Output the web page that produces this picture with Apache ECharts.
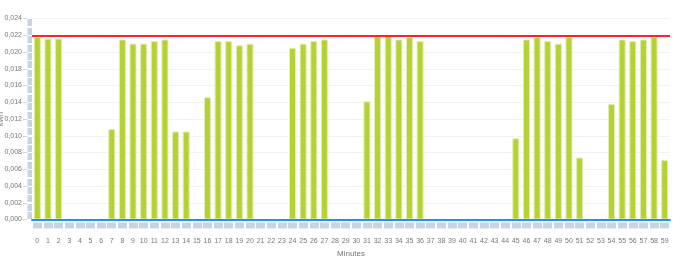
<!DOCTYPE html>
<html><head><meta charset="utf-8">
<script src="https://cdn.jsdelivr.net/npm/echarts@6/dist/echarts.min.js"></script>
<style>html,body{margin:0;padding:0;background:#fff}#c{width:680px;height:261px}</style>
</head><body><div id="c"></div>
<script>
const minutes = Array.from({length: 60}, (_, i) => String(i));
const values = [
  0.0218, 0.0216, 0.0216, 0, 0, 0, 0, 0.0108, 0.0215, 0.0210,
  0.0210, 0.0213, 0.0215, 0.0105, 0.0105, 0, 0.0146, 0.0213, 0.0213, 0.0208,
  0.0210, 0, 0, 0, 0.0205, 0.0210, 0.0213, 0.0215, 0, 0,
  0, 0.0141, 0.0220, 0.0220, 0.0215, 0.0218, 0.0213, 0, 0, 0,
  0, 0, 0, 0, 0, 0.0097, 0.0215, 0.0218, 0.0213, 0.0210,
  0.0218, 0.0074, 0, 0, 0.0138, 0.0215, 0.0213, 0.0215, 0.0218, 0.0071
];
const limitValue = 0.022;
const yTickSlots = Array.from({length: 24}, (_, i) => String(i));
const yAxisName = 'kWh';
const xAxisName = 'Minutes';

const boxColor = '#c6d4e3';
const gridBox = {left: 32, right: 10, top: 18.5, bottom: 41.5, outerBoundsMode: 'none', containLabel: false};
const chart = echarts.init(document.getElementById('c'));
chart.setOption({
  animation: false,
  grid: [Object.assign({}, gridBox), Object.assign({}, gridBox)],
  xAxis: [{
    type: 'category', data: minutes, gridIndex: 0, z: 5,
    axisLine: {lineStyle: {color: '#1e98e6', width: 2}},
    axisTick: {show: false},
    axisLabel: {color: '#777', fontSize: 7, margin: 18, interval: 0, fontFamily: 'Liberation Sans'},
    name: xAxisName, nameLocation: 'middle', nameGap: 30, nameMoveOverlap: false,
    nameTextStyle: {color: '#777', fontSize: 8, fontFamily: 'Liberation Sans'}
  }, {
    type: 'category', data: minutes, gridIndex: 0, position: 'bottom', offset: 3,
    axisLine: {show: false},
    axisTick: {show: true, interval: 0, alignWithLabel: true, length: 6, lineStyle: {color: boxColor, width: 9.2}},
    axisLabel: {show: false}
  }, {
    type: 'value', gridIndex: 1, show: false
  }],
  yAxis: [{
    type: 'value', gridIndex: 0, min: 0, max: 0.024, interval: 0.002, offset: 5,
    axisLine: {show: false},
    axisTick: {show: true, length: 4, lineStyle: {color: '#c6d4e3'}},
    axisLabel: {color: '#777', fontSize: 7, margin: 5, fontFamily: 'Liberation Sans',
      formatter: v => v.toFixed(3).replace('.', ',')},
    splitLine: {lineStyle: {color: '#f2f2f2'}},
    name: yAxisName, nameLocation: 'middle', nameGap: 22.5, nameRotate: 90, nameMoveOverlap: false,
    nameTextStyle: {color: '#777', fontSize: 7, fontFamily: 'Liberation Sans'}
  }, {
    type: 'category', data: yTickSlots, gridIndex: 1, position: 'left', offset: 0,
    axisLine: {show: false},
    axisTick: {show: true, interval: 0, alignWithLabel: true, length: 4.5, lineStyle: {color: boxColor, width: 7}},
    axisLabel: {show: false}, splitLine: {show: false}
  }],
  series: [{
    type: 'bar', data: values, xAxisIndex: 0, yAxisIndex: 0, barWidth: '66%',
    itemStyle: {color: '#b3d234', borderColor: '#e2eeb5', borderWidth: 1},
    markLine: {
      silent: true, symbol: 'none', label: {show: false}, precision: 4, z: 6,
      lineStyle: {color: '#ff2222', width: 2, type: 'solid'},
      data: [{yAxis: limitValue}]
    }
  }]
});
</script></body></html>
